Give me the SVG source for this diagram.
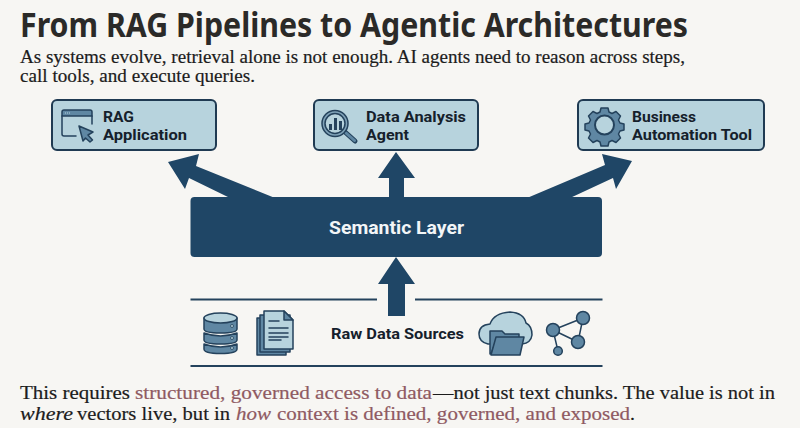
<svg xmlns="http://www.w3.org/2000/svg" width="800" height="428" viewBox="0 0 800 428">
<style>
.title{font:700 34px "Noto Sans","Open Sans",sans-serif;fill:#2b2a28}
.body{font:400 18.600px "Liberation Serif","DejaVu Serif",serif;fill:#1c1c1c;stroke:#1c1c1c;stroke-width:.2}
.big{font-size:19.600px}
.it{font-style:italic}
.hl{fill:#8f5a62;stroke:#8f5a62}
.box{fill:#b7d3dd;stroke:#1f3a52;stroke-width:2}
.lab{font:700 15.500px Roboto,"Noto Sans",sans-serif;fill:#15202b}
.lay{fill:#1f4666}
.ln{stroke:#24425c;stroke-width:2;fill:none}
.ic{fill:#5f87a3;stroke:#24425c;stroke-width:1.5;stroke-linejoin:round}
.il{fill:#b7d3dd;stroke:#24425c;stroke-width:1.500;stroke-linejoin:round}
.no{fill:none;stroke:#24425c;stroke-width:1.500;stroke-linecap:round;stroke-linejoin:round}
.dot{fill:#b7d3dd;stroke:#24425c;stroke-width:.8}
</style>
<rect width="800" height="428" fill="#f7f6f3"/>
<text class="title" x="20" y="37" textLength="668" lengthAdjust="spacingAndGlyphs">From RAG Pipelines to Agentic Architectures</text>
<text class="body" x="20" y="63" textLength="665" lengthAdjust="spacingAndGlyphs">As systems evolve, retrieval alone is not enough. AI agents need to reason across steps,</text>
<text class="body" x="20" y="82" textLength="235" lengthAdjust="spacingAndGlyphs">call tools, and execute queries.</text>
<g id="connectors" class="lay">
<path d="M168 162L199 154L196 166L275 198H230L189 178L185 189Z"/>
<path d="M632 161L602 154L605 165L527 198H570L613 178L616 189Z"/>
<path d="M396 152L415 178H404V198H389V178H378Z"/>
<path d="M396 257L415 284H405V316H388V284H378Z"/>
</g>
<g id="rag"><rect class="box" x="52" y="100" width="164" height="50" rx="5"/>
<path d="M62 116V112Q62 110 64 110H90Q92 110 92 112V116Z" fill="#5f87a3" stroke="#24425c" stroke-width="1.500"/>
<path class="no" d="M76 136H64Q62 136 62 134V116M92 116V124"/>
<path d="M65 113H70" stroke="#b7d3dd" stroke-width="1" stroke-dasharray="1 1"/>
<path class="ic" d="M79 126L93 132L88 135L92.500 140L90 142L85.500 138L83 141Z"/>
<text class="lab" x="103" y="122" textLength="31" lengthAdjust="spacingAndGlyphs">RAG</text><text class="lab" x="103" y="140" textLength="84" lengthAdjust="spacingAndGlyphs">Application</text></g>
<g id="data"><rect class="box" x="314" y="100" width="164" height="50" rx="5"/>
<path d="M345 132L355 141" stroke="#24425c" stroke-width="5" stroke-linecap="round"/><path d="M346 133L354.500 140.500" stroke="#5f87a3" stroke-width="3" stroke-linecap="round"/>
<circle cx="335" cy="123.500" r="13" fill="#7fa2b8" stroke="#24425c" stroke-width="1.500"/><circle cx="335" cy="123.500" r="10" fill="#b7d3dd" stroke="#24425c" stroke-width="1.500"/>
<path fill="#24425c" d="M329 130V124H332V130ZM334 130V118H337V130ZM339 130V121H342V130Z"/>
<text class="lab" x="366" y="122" textLength="100" lengthAdjust="spacingAndGlyphs">Data Analysis</text><text class="lab" x="366" y="140" textLength="43" lengthAdjust="spacingAndGlyphs">Agent</text></g>
<g id="business"><rect class="box" x="578" y="100" width="186" height="50" rx="5"/>
<path class="ic" d="M601 108h7l1 4 3 1.500 4-2 4.500 4.500-2 4 1.500 3 4 1v6l-4 1-1.500 3 2 4-4.500 4.500-4-2-3 1.500-1 4h-7l-1-4-3-1.500-4 2-4.500-4.500 2-4-1.500-3-4-1v-6l4-1 1.500-3-2-4 4.500-4.500 4 2 3-1.500z"/>
<circle cx="604.500" cy="125" r="9.500" fill="#b7d3dd" stroke="#24425c" stroke-width="2"/>
<text class="lab" x="632" y="122" textLength="64" lengthAdjust="spacingAndGlyphs">Business</text><text class="lab" x="632" y="140" textLength="120" lengthAdjust="spacingAndGlyphs">Automation Tool</text></g>
<g id="semantic"><rect class="lay" x="190.500" y="197" width="411.500" height="60" rx="4"/>
<text x="329" y="234" textLength="135" lengthAdjust="spacingAndGlyphs" style="font:700 18px Roboto,sans-serif;fill:#f2f5f7">Semantic Layer</text></g>
<g id="sources">
<path class="ln" d="M190.500 299.500H377M415 299.500H602.500M190.500 366H602.500"/>
<g id="db"><path class="ic" d="M204 318V329Q204 333 220.500 333Q237 333 237 329V318Z"/>
<ellipse class="il" cx="220.500" cy="318" rx="16.500" ry="5"/>
<path class="ic" d="M204 333Q212 336 220.500 336Q229 336 237 333V340Q237 344 220.500 344Q204 344 204 340Z"/>
<path class="ic" d="M204 344Q212 347 220.500 347Q229 347 237 344V349Q237 353.500 220.500 353.500Q204 353.500 204 349Z"/>
<circle class="dot" cx="232" cy="326" r="1.500"/><circle class="dot" cx="232" cy="338" r="1.500"/><circle class="dot" cx="232" cy="348" r="1.500"/></g>
<g id="docs"><path class="ic" d="M257 318V355H286V350H261V318Z"/>
<path class="ic" d="M260 315V352H290V315Z"/>
<path class="il" d="M264 311H284L293 320V349H264Z"/>
<path class="ic" d="M284 311L293 320H284Z"/>
<path class="no" d="M269 321H279M269 328H288M269 333H288M269 337H288M269 340H281" stroke-width="1.200"/></g>
<text class="lab" x="331" y="339" textLength="133" lengthAdjust="spacingAndGlyphs">Raw Data Sources</text>
<g id="cloud"><path class="il" d="M488 344Q479 342 479 334Q479 325 490 324Q494 313 510 312Q524 313 526 323Q532 326 532 335Q531 343 522 344Z"/>
<path class="ic" d="M490 354V331H502L505 334H519V338H497L491 354Z"/>
<path class="ic" d="M491 355L496 337H524L520 355Z"/></g>
<g id="graph"><path class="no" d="M553 330L583 318L578 342L553 330L558 351"/>
<circle class="ic" cx="553" cy="330" r="6.500"/><circle class="ic" cx="583" cy="318" r="6.500"/><circle class="ic" cx="578" cy="342" r="6.500"/><circle class="ic" cx="558" cy="351" r="4.300"/></g>
</g>
<text class="body big" x="20" y="399" textLength="110" lengthAdjust="spacingAndGlyphs">This requires</text>
<text class="body big hl" x="135" y="399" textLength="297" lengthAdjust="spacingAndGlyphs">structured, governed access to data</text>
<text class="body big" x="433" y="399" textLength="342" lengthAdjust="spacingAndGlyphs">—not just text chunks. The value is not in</text>
<text class="body big it" x="20" y="420" textLength="53" lengthAdjust="spacingAndGlyphs">where</text>
<text class="body big" x="77" y="420" textLength="153" lengthAdjust="spacingAndGlyphs">vectors live, but in</text>
<text class="body big hl it" x="236" y="420" textLength="35" lengthAdjust="spacingAndGlyphs">how</text>
<text class="body big hl" x="277" y="420" textLength="353" lengthAdjust="spacingAndGlyphs">context is defined, governed, and exposed</text>
<text class="body big" x="630" y="420">.</text>
</svg>
